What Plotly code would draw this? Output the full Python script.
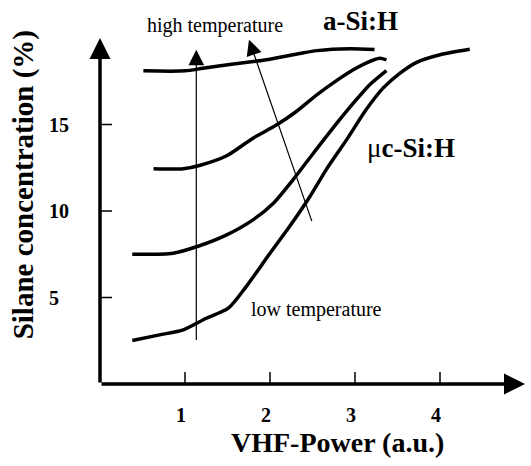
import plotly.graph_objects as go

# ---- data ----
x_ticks = [1, 2, 3, 4]
x_tick_labels = ["1", "2", "3", "4"]
y_ticks = [5, 10, 15]
y_tick_labels = ["5", "10", "15"]

c1_x = [0.51, 1.0, 1.21, 1.57, 1.96, 2.35, 2.55, 2.94, 3.23]
c1_y = [18.1, 18.1, 18.25, 18.5, 18.74, 19.1, 19.27, 19.38, 19.33]
c2_x = [0.63, 0.98, 1.17, 1.49, 1.8, 2.08, 2.31, 2.55, 2.74, 2.98, 3.13, 3.29, 3.37]
c2_y = [12.44, 12.44, 12.63, 13.19, 14.21, 14.98, 15.75, 16.71, 17.39, 18.16, 18.55, 18.83, 18.74]
c3_x = [0.38, 0.86, 1.17, 1.49, 1.8, 2.04, 2.27, 2.51, 2.74, 2.98, 3.17, 3.37]
c3_y = [7.5, 7.56, 7.99, 8.62, 9.49, 10.45, 11.8, 13.34, 14.79, 16.23, 17.29, 18.12]
c4_x = [0.38, 0.70, 0.98, 1.25, 1.51, 1.72, 2.0, 2.23, 2.47, 2.66, 2.9, 3.13, 3.33, 3.53, 3.72, 4.0, 4.35]
c4_y = [2.51, 2.84, 3.13, 3.8, 4.38, 5.63, 7.56, 9.1, 10.84, 12.38, 14.11, 15.85, 17.1, 17.97, 18.58, 19.03, 19.35]

curves = [(c1_x, c1_y), (c2_x, c2_y), (c3_x, c3_y), (c4_x, c4_y)]

x_max = 5
y_max = 20

SERIF = "Liberation Serif, Times New Roman, serif"


def px(v):
    return v / x_max


def py(v):
    return v / y_max


fig = go.Figure()
for cx, cy in curves:
    fig.add_trace(go.Scatter(x=cx, y=cy, mode="lines",
                             line=dict(color="black", width=3.5, shape="spline", smoothing=0.7),
                             showlegend=False, hoverinfo="skip"))

anns = []
# axes with arrows
anns.append(dict(x=x_max, y=0, ax=0, ay=0, xref="x", yref="y", axref="x", ayref="y",
                 showarrow=True, arrowhead=2, arrowsize=1.2, arrowwidth=3.5, arrowcolor="black", text=""))
anns.append(dict(x=0, y=y_max, ax=0, ay=0, xref="x", yref="y", axref="x", ayref="y",
                 showarrow=True, arrowhead=2, arrowsize=1.2, arrowwidth=3.5, arrowcolor="black", text=""))
# temperature arrows
anns.append(dict(x=1.133, y=19.32, ax=1.133, ay=2.46, xref="x", yref="y", axref="x", ayref="y",
                 showarrow=True, arrowhead=2, arrowsize=2.6, arrowwidth=1.2, arrowcolor="black", text=""))
anns.append(dict(x=1.753, y=19.9, ax=2.498, ay=9.33, xref="x", yref="y", axref="x", ayref="y",
                 showarrow=True, arrowhead=2, arrowsize=2.6, arrowwidth=1.2, arrowcolor="black", text=""))


def label(x, y, text, size, **kw):
    d = dict(x=x, y=y, xref="paper", yref="paper", text=text, showarrow=False,
             xanchor="center", yanchor="middle",
             font=dict(family=SERIF, size=size, color="black"))
    d.update(kw)
    return d


# tick labels
for t, lab in zip(x_ticks, x_tick_labels):
    anns.append(label(px(t), 0, "<b>%s</b>" % lab, 20, yshift=-31, xshift=-4))
for t, lab in zip(y_ticks, y_tick_labels):
    anns.append(label(px(-0.624), py(t), "<b>%s</b>" % lab, 20, xanchor="left"))

# axis titles
anns.append(label(px(2.79), py(-3.4), "<b>VHF-Power (a.u.)</b>", 28))
anns.append(label(px(-0.906), py(11.54), "<b>Silane concentration (%)</b>", 29, textangle=-90))

# labels
anns.append(label(px(1.35), py(20.7), "high temperature", 20))
anns.append(label(px(2.55), py(4.29), "low temperature", 20))
anns.append(label(px(3.07), py(21.0), "<b>a-Si:H</b>", 27))
anns.append(label(px(3.66), py(13.65), "\u03bc<b>c-Si:H</b>", 27))

shapes = []
for t in x_ticks:
    shapes.append(dict(type="line", xref="x", yref="y", x0=t, x1=t, ysizemode="pixel", yanchor=0,
                       y0=-12, y1=12, line=dict(color="black", width=1.5)))
for t in y_ticks:
    shapes.append(dict(type="line", xref="x", yref="y", y0=t, y1=t, xsizemode="pixel", xanchor=0,
                       x0=-12, x1=12, line=dict(color="black", width=1.5)))

fig.update_layout(
    width=531, height=466,
    margin=dict(l=100, r=6, t=38, b=82),
    paper_bgcolor="white", plot_bgcolor="white",
    xaxis=dict(range=[0, x_max], visible=False, fixedrange=True),
    yaxis=dict(range=[0, y_max], visible=False, fixedrange=True),
    annotations=anns, shapes=shapes, showlegend=False,
)
fig.write_html("out.html")
